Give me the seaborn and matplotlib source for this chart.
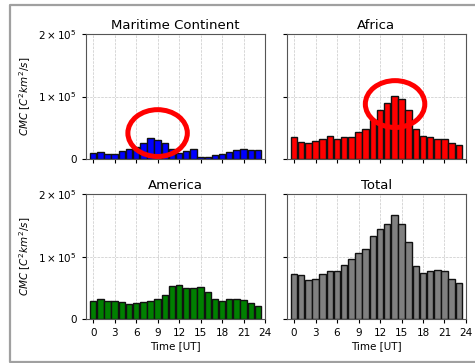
import numpy as np
import pandas as pd
import matplotlib
matplotlib.use("Agg")
import matplotlib.pyplot as plt
import matplotlib.ticker as mticker
from matplotlib.patches import Ellipse
from matplotlib.lines import Line2D
import seaborn as sns

# hora UT
horas = list(range(24))

# CMC por region [C^2 km^2 / s]
maritimo = [9600, 11200, 8500, 8000, 12800, 16500, 19000, 25500, 33000, 31000, 25500, 16000,
            9600, 12800, 16000, 3200, 3200, 7000, 8000, 10600, 14400, 15400, 13800, 13800]
africa = [34600, 27700, 25000, 28200, 32400, 36200, 32400, 34600, 35100, 43600, 48400, 63000,
          78700, 90400, 100500, 96300, 77700, 47300, 37200, 35600, 32400, 31900, 25500, 21800]
america = [29300, 31900, 29300, 28200, 27100, 24500, 25000, 26600, 29300, 31900, 37800, 53200,
           54800, 49500, 49500, 52100, 43100, 31400, 28200, 31400, 31400, 29800, 26100, 21300]
total = [72300, 70200, 62800, 64900, 72300, 77100, 77100, 86700, 96300, 106400, 111700, 133000,
         143600, 152700, 166500, 152700, 123900, 85100, 74500, 77700, 78200, 76600, 64400, 58000]

titulos = ["Maritime Continent", "Africa", "America", "Total"]
colores = ["blue", "red", "green", "gray"]
series = [maritimo, africa, america, total]

# circulos rojos (centro x, centro y) en las dos primeras
circulos = {0: (9.0, 41500), 1: (14.1, 88000)}

fig = plt.figure(figsize=(4.75, 3.63), dpi=100)
# marco gris de la captura: solo izquierda, arriba y abajo
x0, y0, y1 = 10 / 475, 1.5 / 363, 358 / 363
fig.add_artist(Line2D([1.2, x0, x0, 1.2], [y1, y1, y0, y0], transform=fig.transFigure,
                      color="#a0a0a0", linewidth=1.6))

posiciones = [
    [0.181, 0.562, 0.377, 0.344],
    [0.604, 0.562, 0.377, 0.344],
    [0.181, 0.121, 0.377, 0.344],
    [0.604, 0.121, 0.377, 0.344],
]


def fmt(v, pos):
    if v == 0:
        return "0"
    e = int(np.floor(np.log10(abs(v))))
    m = v / 10 ** e
    return r"$%d \times 10^{%d}$" % (round(m), e)


for i, (tit, col, val) in enumerate(zip(titulos, colores, series)):
    ax = fig.add_axes(posiciones[i])
    df = pd.DataFrame({"hora": horas, "cmc": val})
    sns.barplot(data=df, x="hora", y="cmc", color=col, native_scale=True, width=0.9,
                edgecolor="#111111", linewidth=1.0, saturation=1, ax=ax)
    ax.set_xlim(-1, 24)
    ax.set_ylim(0, 2e5)
    ax.set_xticks(range(0, 25, 3))
    ax.set_yticks([0, 1e5, 2e5])
    ax.yaxis.set_major_formatter(mticker.FuncFormatter(fmt))
    ax.grid(True, linestyle="--", linewidth=0.5, color="#c8c8c8")
    ax.set_axisbelow(True)
    ax.set_title(tit, fontsize=9.5, pad=4)
    ax.tick_params(labelsize=7.5, length=3)
    for s in ax.spines.values():
        s.set_color("#555555")
    if i % 2 == 0:
        ax.set_ylabel(r"$CMC\ [C^2km^2/s]$", fontsize=7.5)
    else:
        ax.set_ylabel("")
        ax.tick_params(labelleft=False)
    if i >= 2:
        ax.set_xlabel("Time [UT]", fontsize=7.5, labelpad=2)
    else:
        ax.set_xlabel("")
        ax.tick_params(labelbottom=False)
    if i in circulos:
        cx, cy = circulos[i]
        ax.add_patch(Ellipse((cx, cy), 8.3, 75000, fill=False, edgecolor="red", linewidth=3.6,
                             zorder=5))

fig.savefig("out.png", dpi=100)
